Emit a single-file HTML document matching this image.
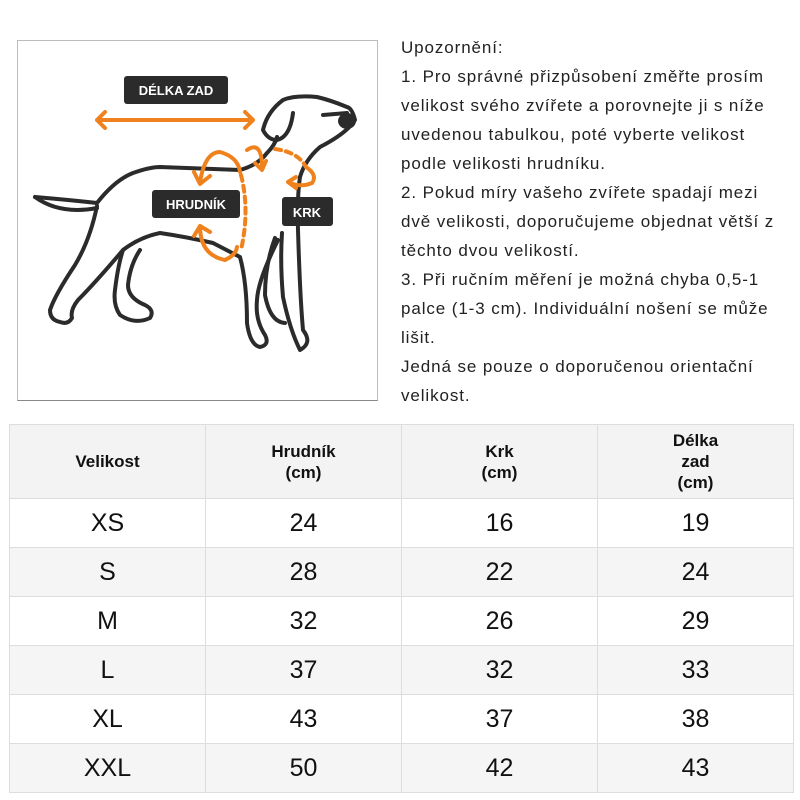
<!DOCTYPE html>
<html><head><meta charset="utf-8"><style>
body{margin:0;width:800px;height:800px;background:#fff;font-family:"Liberation Sans",sans-serif;position:relative;overflow:hidden}
.box{position:absolute;left:17px;top:40px;width:359px;height:359px;border:1px solid #bbb;border-bottom-color:#888}
.txt{position:absolute;left:401px;top:33px;width:399px;font-size:17px;line-height:29px;color:#222;letter-spacing:0.9px;white-space:nowrap}
table{position:absolute;left:9px;top:424px;border-collapse:collapse}
td{border:1px solid #ddd;width:195px;text-align:center;color:#111;font-size:25px;height:48px;padding:0}
tr.h td{height:73px;font-size:17px;font-weight:bold;line-height:21px;background:#f3f3f3}
tr.g td{background:#f5f5f5}
</style></head><body>
<div class="box"></div>
<svg style="position:absolute;left:0;top:0" width="400" height="410" viewBox="0 0 400 410">
<g fill="none" stroke="#2b2b2b" stroke-width="4" stroke-linecap="round" stroke-linejoin="round">
<path d="M35 197 Q70 200 97 203 Q115 180 133 173 Q150 167 160 167 L240 170 Q258 165 267 153 Q275 145 277 137"/>
<path d="M35 197 Q60 215 97 208"/>
<path d="M97 206 Q90 240 75 265 Q55 295 50 310 Q50 320 60 322 Q68 325 72 318 Q70 310 78 300 Q95 283 123 250 Q140 237 160 233 Q187 237 213 243 L240 257 Q247 283 247 323 Q250 345 260 347 Q270 345 265 335 Q255 320 257 300 Q258 280 278 240"/>
<path d="M123 250 Q118 265 115 290 Q113 305 120 315 Q135 325 150 318 Q155 310 145 305 Q128 298 128 285 Q130 265 140 250"/>
<path d="M282 233 Q280 263 283 297 Q290 330 300 350 Q313 343 303 330 Q300 297 298 230 Q297 197 300 177 Q305 160 320 147 Q347 133 355 120 Q352 108 347 107 Q330 100 317 97 Q295 95 283 100 Q267 112 263 130 Q268 140 277 140 Q290 137 293 113"/>
<path d="M323 115 L347 113"/>
<path d="M275 238 Q265 265 265 295 Q270 322 285 323"/>
</g>
<ellipse cx="347" cy="121" rx="9" ry="8" fill="#2b2b2b"/>
<g fill="none" stroke="#f0821e" stroke-width="4" stroke-linecap="round" stroke-linejoin="round">
<path d="M97 120 H253 M105 112 L97 120 L105 128 M245 112 L253 120 L245 128"/>
<path d="M200 182 Q205 152 220 152 Q238 157 240 172 M194 172 L200 184 L210 176"/>
<path d="M200 226 Q200 255 225 260 Q236 255 237 247 M194 236 L200 226 L210 232"/>
<path d="M247 150 Q262 140 262 168 M255 163 L262 170 L266 161"/>
<path d="M306 167 Q318 175 312 183 Q300 188 288 182 M296 177 L288 182 L296 188"/>
<path d="M241 175 Q250 210 241 250" stroke-dasharray="6 5"/>
<path d="M275 149 Q298 152 306 167" stroke-dasharray="6 5"/>
</g>
<g font-weight="bold" font-size="13" fill="#fff" text-anchor="middle">
<rect x="124" y="76" width="104" height="28" rx="3" fill="#2b2b2b"/><text x="176" y="95">DÉLKA ZAD</text>
<rect x="152" y="190" width="88" height="28" rx="3" fill="#2b2b2b"/><text x="196" y="209">HRUDNÍK</text>
<rect x="282" y="197" width="51" height="29" rx="3" fill="#2b2b2b"/><text x="307" y="217">KRK</text>
</g>
</svg>
<div class="txt">Upozornění:<br>1. Pro správné přizpůsobení změřte prosím<br>velikost svého zvířete a porovnejte ji s níže<br>uvedenou tabulkou, poté vyberte velikost<br>podle velikosti hrudníku.<br>2. Pokud míry vašeho zvířete spadají mezi<br>dvě velikosti, doporučujeme objednat větší z<br>těchto dvou velikostí.<br>3. Při ručním měření je možná chyba 0,5-1<br>palce (1-3 cm). Individuální nošení se může<br>lišit.<br>Jedná se pouze o doporučenou orientační<br>velikost.</div>
<table>
<tr class="h"><td>Velikost</td><td>Hrudník<br>(cm)</td><td>Krk<br>(cm)</td><td>Délka<br>zad<br>(cm)</td></tr>
<tr><td>XS</td><td>24</td><td>16</td><td>19</td></tr>
<tr class="g"><td>S</td><td>28</td><td>22</td><td>24</td></tr>
<tr><td>M</td><td>32</td><td>26</td><td>29</td></tr>
<tr class="g"><td>L</td><td>37</td><td>32</td><td>33</td></tr>
<tr><td>XL</td><td>43</td><td>37</td><td>38</td></tr>
<tr class="g"><td>XXL</td><td>50</td><td>42</td><td>43</td></tr>
</table>
</body></html>
